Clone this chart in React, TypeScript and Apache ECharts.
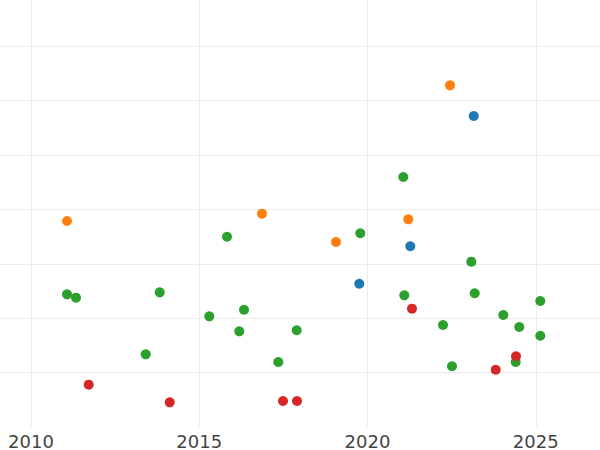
import React, { useEffect, useRef } from "react";
import * as echarts from "echarts";

const xTickLabels = ["2010", "2015", "2020", "2025"];

const blueX = [2023.156, 2021.272, 2019.756];
const blueY = [5.717, 3.322, 2.634];

const orangeX = [2011.07, 2016.865, 2022.452, 2021.212, 2019.064];
const orangeY = [3.787, 3.921, 6.281, 3.818, 3.401];

const greenX = [
  2021.064, 2015.825, 2019.786, 2011.07, 2011.337, 2013.825, 2015.299, 2016.33,
  2016.19, 2013.409, 2017.349, 2017.896, 2023.085, 2021.094, 2023.186, 2025.135,
  2024.036, 2022.244, 2024.511, 2025.135, 2022.511, 2024.404,
];
const greenY = [
  4.596, 3.498, 3.561, 2.439, 2.377, 2.476, 2.035, 2.156, 1.759, 1.336, 1.195,
  1.778, 3.039, 2.421, 2.458, 2.316, 2.059, 1.875, 1.838, 1.678, 1.116, 1.195,
];

const redX = [2011.715, 2014.122, 2017.489, 2017.905, 2021.322, 2024.413, 2023.81];
const redY = [0.778, 0.454, 0.478, 0.478, 2.175, 1.3, 1.053];

const zip = (xs: number[], ys: number[]) => xs.map((x, i) => [x, ys[i]]);

export default function App() {
  const ref = useRef<HTMLDivElement>(null);
  useEffect(() => {
    if (!ref.current) return;
    const chart = echarts.init(ref.current, undefined, { renderer: "svg" });
    const pxPerYear = 33.65;
    const x2010 = 31;
    const leftPx = x2010 - 5 * pxPerYear;
    const rightPx = x2010 + 20 * pxPerYear;
    const gridBottom = 427;
    const pxPerUnit = 54.4;
    const topPx = gridBottom - 8 * pxPerUnit;
    const series = [
      { name: "blue", color: "#1f77b4", data: zip(blueX, blueY) },
      { name: "orange", color: "#ff7f0e", data: zip(orangeX, orangeY) },
      { name: "green", color: "#2ca02c", data: zip(greenX, greenY) },
      { name: "red", color: "#d62728", data: zip(redX, redY) },
    ];
    chart.setOption({
      animation: false,
      grid: {
        left: leftPx,
        width: rightPx - leftPx,
        top: topPx,
        height: gridBottom - topPx,
        containLabel: false,
        outerBoundsMode: "none",
      },
      xAxis: {
        type: "value",
        min: 2005,
        max: 2030,
        interval: 5,
        axisLine: { show: false },
        axisTick: { show: false },
        splitLine: { show: true, lineStyle: { color: "#ebebeb", width: 1 } },
        axisLabel: {
          color: "#444444",
          fontSize: 18,
          fontFamily: "DejaVu Sans",
          margin: 5,
          formatter: (v: number) =>
            xTickLabels.includes(String(v)) ? String(v) : "",
        },
      },
      yAxis: {
        type: "value",
        min: 0,
        max: 8,
        interval: 1,
        axisLine: { show: false },
        axisTick: { show: false },
        axisLabel: { show: false },
        splitLine: {
          show: true,
          showMinLine: false,
          lineStyle: { color: "#ebebeb", width: 1 },
        },
      },
      series: series.map((s) => ({
        type: "scatter",
        name: s.name,
        data: s.data,
        symbol: "circle",
        symbolSize: 10,
        itemStyle: { color: s.color, opacity: 1 },
      })),
    });
    return () => chart.dispose();
  }, []);
  return <div ref={ref} style={{ width: 600, height: 450, position: "absolute", left: 0, top: 0 }} />;
}
